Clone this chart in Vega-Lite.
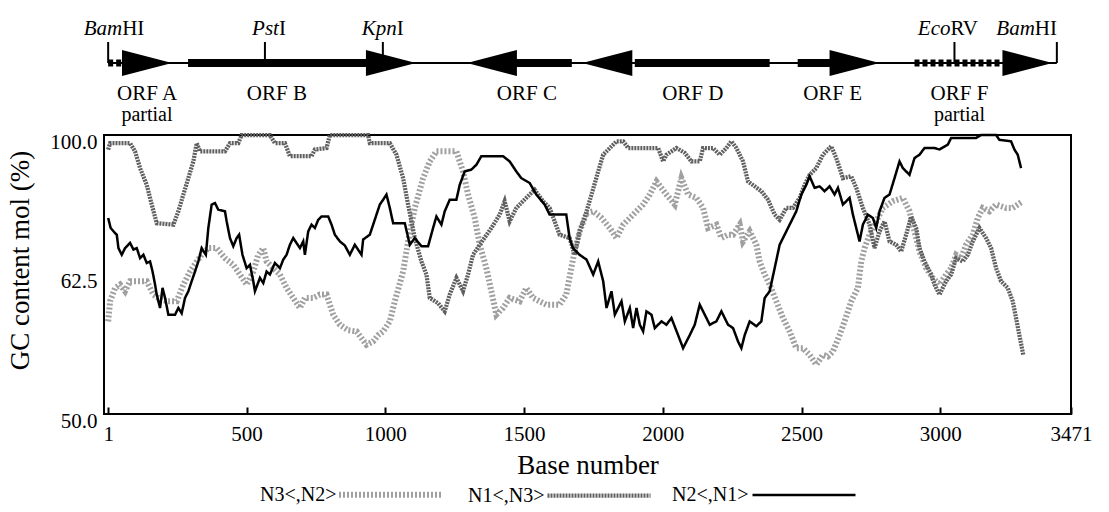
{
  "$schema": "https://vega.github.io/schema/vega-lite/v6.json",
  "width": 967,
  "height": 279,
  "autosize": {"type": "none"},
  "padding": {"left": 104, "top": 135, "right": 38, "bottom": 98},
  "background": "white",
  "config": {
    "font": "Liberation Serif",
    "view": {"stroke": "black", "strokeWidth": 2},
    "axis": {"labelFont": "Liberation Serif", "titleFont": "Liberation Serif", "labelColor": "black", "titleColor": "black", "titleFontWeight": "normal", "grid": false, "domain": false},
    "text": {"font": "Liberation Serif", "color": "black"},
    "legend": {
      "orient": "none", "legendX": 154, "legendY": 305, "direction": "horizontal",
      "labelFont": "Liberation Serif", "labelFontSize": 20, "labelColor": "black", "labelLimit": 300,
      "symbolType": "stroke", "symbolSize": 10609,
      "labelOffset": -185, "symbolOffset": 78, "columnPadding": 13
    }
  },
  "datasets": {
    "gc": [
      {"series":"N2<,N1>","base":1,"gc":77.7},{"series":"N2<,N1>","base":10,"gc":75.0},{"series":"N2<,N1>","base":26,"gc":73.6},{"series":"N2<,N1>","base":32,"gc":73.2},{"series":"N2<,N1>","base":38,"gc":69.6},{"series":"N2<,N1>","base":50,"gc":67.8},{"series":"N2<,N1>","base":62,"gc":69.6},{"series":"N2<,N1>","base":80,"gc":71.0},{"series":"N2<,N1>","base":92,"gc":69.2},{"series":"N2<,N1>","base":104,"gc":69.6},{"series":"N2<,N1>","base":116,"gc":66.9},{"series":"N2<,N1>","base":128,"gc":67.8},{"series":"N2<,N1>","base":140,"gc":65.6},{"series":"N2<,N1>","base":152,"gc":66.0},{"series":"N2<,N1>","base":161,"gc":63.3},{"series":"N2<,N1>","base":170,"gc":59.8},{"series":"N2<,N1>","base":176,"gc":57.1},{"series":"N2<,N1>","base":188,"gc":53.5},{"series":"N2<,N1>","base":197,"gc":58.9},{"series":"N2<,N1>","base":206,"gc":56.2},{"series":"N2<,N1>","base":218,"gc":51.7},{"series":"N2<,N1>","base":242,"gc":51.7},{"series":"N2<,N1>","base":254,"gc":53.5},{"series":"N2<,N1>","base":266,"gc":52.1},{"series":"N2<,N1>","base":278,"gc":56.2},{"series":"N2<,N1>","base":290,"gc":58.0},{"series":"N2<,N1>","base":302,"gc":60.7},{"series":"N2<,N1>","base":314,"gc":63.3},{"series":"N2<,N1>","base":326,"gc":66.0},{"series":"N2<,N1>","base":338,"gc":69.6},{"series":"N2<,N1>","base":353,"gc":67.8},{"series":"N2<,N1>","base":362,"gc":75.0},{"series":"N2<,N1>","base":374,"gc":81.3},{"series":"N2<,N1>","base":386,"gc":81.7},{"series":"N2<,N1>","base":398,"gc":79.9},{"series":"N2<,N1>","base":422,"gc":79.5},{"series":"N2<,N1>","base":428,"gc":76.8},{"series":"N2<,N1>","base":440,"gc":72.3},{"series":"N2<,N1>","base":452,"gc":70.1},{"series":"N2<,N1>","base":464,"gc":72.3},{"series":"N2<,N1>","base":473,"gc":73.2},{"series":"N2<,N1>","base":485,"gc":67.8},{"series":"N2<,N1>","base":500,"gc":64.2},{"series":"N2<,N1>","base":512,"gc":65.1},{"series":"N2<,N1>","base":524,"gc":60.7},{"series":"N2<,N1>","base":530,"gc":58.0},{"series":"N2<,N1>","base":548,"gc":61.6},{"series":"N2<,N1>","base":560,"gc":60.2},{"series":"N2<,N1>","base":572,"gc":63.3},{"series":"N2<,N1>","base":584,"gc":62.5},{"series":"N2<,N1>","base":602,"gc":65.6},{"series":"N2<,N1>","base":620,"gc":64.2},{"series":"N2<,N1>","base":632,"gc":66.5},{"series":"N2<,N1>","base":644,"gc":67.8},{"series":"N2<,N1>","base":656,"gc":70.5},{"series":"N2<,N1>","base":668,"gc":72.3},{"series":"N2<,N1>","base":692,"gc":69.6},{"series":"N2<,N1>","base":704,"gc":71.4},{"series":"N2<,N1>","base":710,"gc":67.8},{"series":"N2<,N1>","base":722,"gc":74.1},{"series":"N2<,N1>","base":734,"gc":75.9},{"series":"N2<,N1>","base":746,"gc":75.0},{"series":"N2<,N1>","base":758,"gc":77.2},{"series":"N2<,N1>","base":770,"gc":78.1},{"series":"N2<,N1>","base":794,"gc":78.1},{"series":"N2<,N1>","base":806,"gc":75.9},{"series":"N2<,N1>","base":818,"gc":73.2},{"series":"N2<,N1>","base":836,"gc":71.4},{"series":"N2<,N1>","base":854,"gc":70.3},{"series":"N2<,N1>","base":872,"gc":67.8},{"series":"N2<,N1>","base":890,"gc":70.5},{"series":"N2<,N1>","base":914,"gc":67.8},{"series":"N2<,N1>","base":920,"gc":71.9},{"series":"N2<,N1>","base":944,"gc":73.2},{"series":"N2<,N1>","base":956,"gc":75.9},{"series":"N2<,N1>","base":968,"gc":78.6},{"series":"N2<,N1>","base":980,"gc":81.3},{"series":"N2<,N1>","base":992,"gc":82.6},{"series":"N2<,N1>","base":1004,"gc":84.0},{"series":"N2<,N1>","base":1016,"gc":80.4},{"series":"N2<,N1>","base":1028,"gc":76.3},{"series":"N2<,N1>","base":1070,"gc":76.3},{"series":"N2<,N1>","base":1088,"gc":70.5},{"series":"N2<,N1>","base":1106,"gc":72.3},{"series":"N2<,N1>","base":1130,"gc":70.1},{"series":"N2<,N1>","base":1154,"gc":70.1},{"series":"N2<,N1>","base":1172,"gc":75.0},{"series":"N2<,N1>","base":1184,"gc":78.1},{"series":"N2<,N1>","base":1202,"gc":75.9},{"series":"N2<,N1>","base":1214,"gc":79.5},{"series":"N2<,N1>","base":1232,"gc":82.6},{"series":"N2<,N1>","base":1256,"gc":82.6},{"series":"N2<,N1>","base":1268,"gc":86.6},{"series":"N2<,N1>","base":1286,"gc":90.2},{"series":"N2<,N1>","base":1310,"gc":90.7},{"series":"N2<,N1>","base":1328,"gc":92.0},{"series":"N2<,N1>","base":1346,"gc":94.3},{"series":"N2<,N1>","base":1424,"gc":94.3},{"series":"N2<,N1>","base":1448,"gc":92.9},{"series":"N2<,N1>","base":1472,"gc":90.2},{"series":"N2<,N1>","base":1490,"gc":88.4},{"series":"N2<,N1>","base":1520,"gc":87.1},{"series":"N2<,N1>","base":1544,"gc":84.0},{"series":"N2<,N1>","base":1574,"gc":81.3},{"series":"N2<,N1>","base":1592,"gc":78.6},{"series":"N2<,N1>","base":1652,"gc":78.6},{"series":"N2<,N1>","base":1664,"gc":72.3},{"series":"N2<,N1>","base":1676,"gc":69.6},{"series":"N2<,N1>","base":1700,"gc":67.8},{"series":"N2<,N1>","base":1725,"gc":66.5},{"series":"N2<,N1>","base":1749,"gc":62.5},{"series":"N2<,N1>","base":1767,"gc":66.0},{"series":"N2<,N1>","base":1785,"gc":60.7},{"series":"N2<,N1>","base":1797,"gc":53.5},{"series":"N2<,N1>","base":1815,"gc":58.0},{"series":"N2<,N1>","base":1827,"gc":51.7},{"series":"N2<,N1>","base":1851,"gc":55.3},{"series":"N2<,N1>","base":1863,"gc":49.9},{"series":"N2<,N1>","base":1881,"gc":53.5},{"series":"N2<,N1>","base":1893,"gc":48.1},{"series":"N2<,N1>","base":1905,"gc":53.5},{"series":"N2<,N1>","base":1917,"gc":49.0},{"series":"N2<,N1>","base":1929,"gc":47.2},{"series":"N2<,N1>","base":1941,"gc":52.6},{"series":"N2<,N1>","base":1959,"gc":51.7},{"series":"N2<,N1>","base":1971,"gc":48.1},{"series":"N2<,N1>","base":1995,"gc":49.9},{"series":"N2<,N1>","base":2013,"gc":49.0},{"series":"N2<,N1>","base":2031,"gc":50.8},{"series":"N2<,N1>","base":2055,"gc":46.2},{"series":"N2<,N1>","base":2073,"gc":42.7},{"series":"N2<,N1>","base":2097,"gc":46.2},{"series":"N2<,N1>","base":2115,"gc":49.0},{"series":"N2<,N1>","base":2133,"gc":54.4},{"series":"N2<,N1>","base":2151,"gc":51.7},{"series":"N2<,N1>","base":2169,"gc":49.0},{"series":"N2<,N1>","base":2193,"gc":49.9},{"series":"N2<,N1>","base":2211,"gc":52.6},{"series":"N2<,N1>","base":2235,"gc":49.0},{"series":"N2<,N1>","base":2253,"gc":48.1},{"series":"N2<,N1>","base":2271,"gc":44.5},{"series":"N2<,N1>","base":2283,"gc":42.7},{"series":"N2<,N1>","base":2295,"gc":46.2},{"series":"N2<,N1>","base":2313,"gc":49.9},{"series":"N2<,N1>","base":2337,"gc":48.6},{"series":"N2<,N1>","base":2355,"gc":49.9},{"series":"N2<,N1>","base":2367,"gc":56.2},{"series":"N2<,N1>","base":2385,"gc":58.0},{"series":"N2<,N1>","base":2403,"gc":64.2},{"series":"N2<,N1>","base":2421,"gc":70.5},{"series":"N2<,N1>","base":2439,"gc":73.2},{"series":"N2<,N1>","base":2457,"gc":75.9},{"series":"N2<,N1>","base":2481,"gc":79.5},{"series":"N2<,N1>","base":2499,"gc":84.0},{"series":"N2<,N1>","base":2517,"gc":86.6},{"series":"N2<,N1>","base":2529,"gc":88.9},{"series":"N2<,N1>","base":2547,"gc":85.8},{"series":"N2<,N1>","base":2565,"gc":86.2},{"series":"N2<,N1>","base":2583,"gc":84.9},{"series":"N2<,N1>","base":2601,"gc":86.2},{"series":"N2<,N1>","base":2619,"gc":84.0},{"series":"N2<,N1>","base":2631,"gc":85.8},{"series":"N2<,N1>","base":2649,"gc":81.3},{"series":"N2<,N1>","base":2673,"gc":83.1},{"series":"N2<,N1>","base":2685,"gc":78.6},{"series":"N2<,N1>","base":2697,"gc":75.0},{"series":"N2<,N1>","base":2709,"gc":71.4},{"series":"N2<,N1>","base":2721,"gc":75.9},{"series":"N2<,N1>","base":2739,"gc":78.6},{"series":"N2<,N1>","base":2757,"gc":77.7},{"series":"N2<,N1>","base":2769,"gc":75.0},{"series":"N2<,N1>","base":2781,"gc":79.5},{"series":"N2<,N1>","base":2799,"gc":83.1},{"series":"N2<,N1>","base":2817,"gc":84.0},{"series":"N2<,N1>","base":2835,"gc":88.4},{"series":"N2<,N1>","base":2853,"gc":92.9},{"series":"N2<,N1>","base":2865,"gc":91.1},{"series":"N2<,N1>","base":2889,"gc":89.3},{"series":"N2<,N1>","base":2907,"gc":93.8},{"series":"N2<,N1>","base":2925,"gc":94.7},{"series":"N2<,N1>","base":2943,"gc":96.5},{"series":"N2<,N1>","base":2979,"gc":96.5},{"series":"N2<,N1>","base":2997,"gc":96.1},{"series":"N2<,N1>","base":3027,"gc":97.4},{"series":"N2<,N1>","base":3039,"gc":99.2},{"series":"N2<,N1>","base":3129,"gc":99.2},{"series":"N2<,N1>","base":3147,"gc":100},{"series":"N2<,N1>","base":3201,"gc":100},{"series":"N2<,N1>","base":3213,"gc":98.7},{"series":"N2<,N1>","base":3255,"gc":98.3},{"series":"N2<,N1>","base":3267,"gc":96.1},{"series":"N2<,N1>","base":3279,"gc":94.7},{"series":"N2<,N1>","base":3291,"gc":91.1},

      {"series":"N1<,N3>","base":1,"gc":96.1},{"series":"N1<,N3>","base":8,"gc":97.8},{"series":"N1<,N3>","base":80,"gc":97.8},{"series":"N1<,N3>","base":98,"gc":95.6},{"series":"N1<,N3>","base":116,"gc":91.1},{"series":"N1<,N3>","base":140,"gc":86.6},{"series":"N1<,N3>","base":158,"gc":81.3},{"series":"N1<,N3>","base":176,"gc":76.3},{"series":"N1<,N3>","base":236,"gc":75.9},{"series":"N1<,N3>","base":254,"gc":79.5},{"series":"N1<,N3>","base":272,"gc":84.0},{"series":"N1<,N3>","base":290,"gc":88.4},{"series":"N1<,N3>","base":308,"gc":92.9},{"series":"N1<,N3>","base":320,"gc":97.8},{"series":"N1<,N3>","base":332,"gc":95.6},{"series":"N1<,N3>","base":422,"gc":95.6},{"series":"N1<,N3>","base":440,"gc":97.8},{"series":"N1<,N3>","base":470,"gc":97.8},{"series":"N1<,N3>","base":482,"gc":100},{"series":"N1<,N3>","base":584,"gc":100},{"series":"N1<,N3>","base":602,"gc":97.8},{"series":"N1<,N3>","base":638,"gc":97.8},{"series":"N1<,N3>","base":656,"gc":94.3},{"series":"N1<,N3>","base":734,"gc":94.3},{"series":"N1<,N3>","base":746,"gc":96.1},{"series":"N1<,N3>","base":788,"gc":96.5},{"series":"N1<,N3>","base":800,"gc":100},{"series":"N1<,N3>","base":938,"gc":100},{"series":"N1<,N3>","base":944,"gc":97.8},{"series":"N1<,N3>","base":1016,"gc":97.8},{"series":"N1<,N3>","base":1040,"gc":94.7},{"series":"N1<,N3>","base":1064,"gc":88.4},{"series":"N1<,N3>","base":1082,"gc":81.3},{"series":"N1<,N3>","base":1106,"gc":72.3},{"series":"N1<,N3>","base":1130,"gc":66.0},{"series":"N1<,N3>","base":1148,"gc":62.5},{"series":"N1<,N3>","base":1160,"gc":56.2},{"series":"N1<,N3>","base":1190,"gc":54.8},{"series":"N1<,N3>","base":1214,"gc":52.6},{"series":"N1<,N3>","base":1232,"gc":57.1},{"series":"N1<,N3>","base":1256,"gc":61.6},{"series":"N1<,N3>","base":1280,"gc":58.0},{"series":"N1<,N3>","base":1298,"gc":62.5},{"series":"N1<,N3>","base":1316,"gc":67.8},{"series":"N1<,N3>","base":1340,"gc":70.5},{"series":"N1<,N3>","base":1382,"gc":75.0},{"series":"N1<,N3>","base":1412,"gc":78.6},{"series":"N1<,N3>","base":1430,"gc":82.2},{"series":"N1<,N3>","base":1448,"gc":76.8},{"series":"N1<,N3>","base":1472,"gc":80.4},{"series":"N1<,N3>","base":1508,"gc":83.1},{"series":"N1<,N3>","base":1538,"gc":85.3},{"series":"N1<,N3>","base":1568,"gc":82.2},{"series":"N1<,N3>","base":1592,"gc":80.4},{"series":"N1<,N3>","base":1628,"gc":73.2},{"series":"N1<,N3>","base":1664,"gc":72.3},{"series":"N1<,N3>","base":1682,"gc":67.8},{"series":"N1<,N3>","base":1700,"gc":74.1},{"series":"N1<,N3>","base":1718,"gc":77.7},{"series":"N1<,N3>","base":1743,"gc":84.0},{"series":"N1<,N3>","base":1767,"gc":90.2},{"series":"N1<,N3>","base":1785,"gc":94.7},{"series":"N1<,N3>","base":1809,"gc":96.5},{"series":"N1<,N3>","base":1833,"gc":98.3},{"series":"N1<,N3>","base":1857,"gc":98.3},{"series":"N1<,N3>","base":1875,"gc":96.5},{"series":"N1<,N3>","base":1983,"gc":96.5},{"series":"N1<,N3>","base":2001,"gc":92.9},{"series":"N1<,N3>","base":2013,"gc":94.7},{"series":"N1<,N3>","base":2049,"gc":96.5},{"series":"N1<,N3>","base":2079,"gc":95.2},{"series":"N1<,N3>","base":2103,"gc":92.9},{"series":"N1<,N3>","base":2133,"gc":92.9},{"series":"N1<,N3>","base":2145,"gc":96.5},{"series":"N1<,N3>","base":2181,"gc":96.5},{"series":"N1<,N3>","base":2205,"gc":94.7},{"series":"N1<,N3>","base":2229,"gc":96.5},{"series":"N1<,N3>","base":2247,"gc":98.3},{"series":"N1<,N3>","base":2265,"gc":96.5},{"series":"N1<,N3>","base":2289,"gc":92.9},{"series":"N1<,N3>","base":2307,"gc":87.5},{"series":"N1<,N3>","base":2331,"gc":86.2},{"series":"N1<,N3>","base":2355,"gc":84.9},{"series":"N1<,N3>","base":2379,"gc":82.6},{"series":"N1<,N3>","base":2403,"gc":78.6},{"series":"N1<,N3>","base":2421,"gc":77.2},{"series":"N1<,N3>","base":2445,"gc":80.4},{"series":"N1<,N3>","base":2469,"gc":80.4},{"series":"N1<,N3>","base":2493,"gc":83.1},{"series":"N1<,N3>","base":2511,"gc":86.6},{"series":"N1<,N3>","base":2529,"gc":89.3},{"series":"N1<,N3>","base":2553,"gc":91.1},{"series":"N1<,N3>","base":2577,"gc":94.7},{"series":"N1<,N3>","base":2607,"gc":97.0},{"series":"N1<,N3>","base":2625,"gc":93.8},{"series":"N1<,N3>","base":2649,"gc":88.4},{"series":"N1<,N3>","base":2679,"gc":88.9},{"series":"N1<,N3>","base":2697,"gc":85.8},{"series":"N1<,N3>","base":2721,"gc":80.4},{"series":"N1<,N3>","base":2745,"gc":75.9},{"series":"N1<,N3>","base":2763,"gc":69.6},{"series":"N1<,N3>","base":2781,"gc":74.1},{"series":"N1<,N3>","base":2799,"gc":76.8},{"series":"N1<,N3>","base":2817,"gc":71.4},{"series":"N1<,N3>","base":2841,"gc":70.5},{"series":"N1<,N3>","base":2859,"gc":68.7},{"series":"N1<,N3>","base":2877,"gc":73.2},{"series":"N1<,N3>","base":2895,"gc":78.1},{"series":"N1<,N3>","base":2913,"gc":75.0},{"series":"N1<,N3>","base":2925,"gc":69.6},{"series":"N1<,N3>","base":2943,"gc":66.0},{"series":"N1<,N3>","base":2967,"gc":62.5},{"series":"N1<,N3>","base":2979,"gc":59.8},{"series":"N1<,N3>","base":2997,"gc":57.1},{"series":"N1<,N3>","base":3021,"gc":60.7},{"series":"N1<,N3>","base":3039,"gc":62.5},{"series":"N1<,N3>","base":3057,"gc":66.9},{"series":"N1<,N3>","base":3081,"gc":66.0},{"series":"N1<,N3>","base":3099,"gc":67.8},{"series":"N1<,N3>","base":3117,"gc":71.4},{"series":"N1<,N3>","base":3141,"gc":75.0},{"series":"N1<,N3>","base":3165,"gc":72.3},{"series":"N1<,N3>","base":3183,"gc":69.6},{"series":"N1<,N3>","base":3201,"gc":64.2},{"series":"N1<,N3>","base":3219,"gc":60.7},{"series":"N1<,N3>","base":3243,"gc":58.9},{"series":"N1<,N3>","base":3261,"gc":55.3},{"series":"N1<,N3>","base":3273,"gc":50.8},{"series":"N1<,N3>","base":3285,"gc":46.2},{"series":"N1<,N3>","base":3299,"gc":40.9},

      {"series":"N3<,N2>","base":1,"gc":49.9},{"series":"N3<,N2>","base":8,"gc":55.3},{"series":"N3<,N2>","base":26,"gc":58.9},{"series":"N3<,N2>","base":44,"gc":59.8},{"series":"N3<,N2>","base":62,"gc":58.0},{"series":"N3<,N2>","base":80,"gc":60.7},{"series":"N3<,N2>","base":140,"gc":60.7},{"series":"N3<,N2>","base":164,"gc":57.1},{"series":"N3<,N2>","base":182,"gc":56.2},{"series":"N3<,N2>","base":212,"gc":55.3},{"series":"N3<,N2>","base":248,"gc":55.3},{"series":"N3<,N2>","base":272,"gc":59.8},{"series":"N3<,N2>","base":296,"gc":63.3},{"series":"N3<,N2>","base":320,"gc":66.0},{"series":"N3<,N2>","base":338,"gc":67.8},{"series":"N3<,N2>","base":362,"gc":69.6},{"series":"N3<,N2>","base":392,"gc":69.6},{"series":"N3<,N2>","base":422,"gc":66.9},{"series":"N3<,N2>","base":452,"gc":65.1},{"series":"N3<,N2>","base":476,"gc":62.5},{"series":"N3<,N2>","base":500,"gc":59.8},{"series":"N3<,N2>","base":524,"gc":63.3},{"series":"N3<,N2>","base":542,"gc":67.8},{"series":"N3<,N2>","base":560,"gc":69.6},{"series":"N3<,N2>","base":572,"gc":66.0},{"series":"N3<,N2>","base":596,"gc":64.2},{"series":"N3<,N2>","base":620,"gc":62.5},{"series":"N3<,N2>","base":644,"gc":58.9},{"series":"N3<,N2>","base":668,"gc":56.2},{"series":"N3<,N2>","base":692,"gc":53.5},{"series":"N3<,N2>","base":710,"gc":56.2},{"series":"N3<,N2>","base":740,"gc":56.2},{"series":"N3<,N2>","base":764,"gc":57.1},{"series":"N3<,N2>","base":788,"gc":57.1},{"series":"N3<,N2>","base":812,"gc":51.7},{"series":"N3<,N2>","base":836,"gc":49.0},{"series":"N3<,N2>","base":866,"gc":47.5},{"series":"N3<,N2>","base":896,"gc":47.2},{"series":"N3<,N2>","base":932,"gc":43.6},{"series":"N3<,N2>","base":956,"gc":44.5},{"series":"N3<,N2>","base":974,"gc":46.2},{"series":"N3<,N2>","base":992,"gc":47.2},{"series":"N3<,N2>","base":1016,"gc":49.9},{"series":"N3<,N2>","base":1034,"gc":55.3},{"series":"N3<,N2>","base":1064,"gc":63.3},{"series":"N3<,N2>","base":1082,"gc":71.4},{"series":"N3<,N2>","base":1106,"gc":80.4},{"series":"N3<,N2>","base":1136,"gc":88.4},{"series":"N3<,N2>","base":1160,"gc":92.9},{"series":"N3<,N2>","base":1184,"gc":95.6},{"series":"N3<,N2>","base":1256,"gc":95.6},{"series":"N3<,N2>","base":1280,"gc":90.2},{"series":"N3<,N2>","base":1298,"gc":84.0},{"series":"N3<,N2>","base":1322,"gc":77.7},{"series":"N3<,N2>","base":1340,"gc":70.5},{"series":"N3<,N2>","base":1364,"gc":64.2},{"series":"N3<,N2>","base":1382,"gc":58.0},{"series":"N3<,N2>","base":1400,"gc":51.7},{"series":"N3<,N2>","base":1424,"gc":53.5},{"series":"N3<,N2>","base":1448,"gc":56.2},{"series":"N3<,N2>","base":1484,"gc":55.3},{"series":"N3<,N2>","base":1508,"gc":58.9},{"series":"N3<,N2>","base":1532,"gc":56.2},{"series":"N3<,N2>","base":1580,"gc":54.4},{"series":"N3<,N2>","base":1628,"gc":54.4},{"series":"N3<,N2>","base":1652,"gc":57.1},{"series":"N3<,N2>","base":1670,"gc":64.2},{"series":"N3<,N2>","base":1682,"gc":68.7},{"series":"N3<,N2>","base":1700,"gc":74.0},{"series":"N3<,N2>","base":1725,"gc":79.0},{"series":"N3<,N2>","base":1749,"gc":79.5},{"series":"N3<,N2>","base":1779,"gc":77.7},{"series":"N3<,N2>","base":1809,"gc":75.0},{"series":"N3<,N2>","base":1833,"gc":72.3},{"series":"N3<,N2>","base":1857,"gc":75.9},{"series":"N3<,N2>","base":1893,"gc":78.6},{"series":"N3<,N2>","base":1929,"gc":81.3},{"series":"N3<,N2>","base":1953,"gc":84.0},{"series":"N3<,N2>","base":1977,"gc":87.5},{"series":"N3<,N2>","base":2013,"gc":84.0},{"series":"N3<,N2>","base":2043,"gc":81.3},{"series":"N3<,N2>","base":2067,"gc":88.4},{"series":"N3<,N2>","base":2091,"gc":84.0},{"series":"N3<,N2>","base":2121,"gc":83.1},{"series":"N3<,N2>","base":2145,"gc":80.4},{"series":"N3<,N2>","base":2163,"gc":75.0},{"series":"N3<,N2>","base":2193,"gc":75.9},{"series":"N3<,N2>","base":2211,"gc":72.3},{"series":"N3<,N2>","base":2235,"gc":73.2},{"series":"N3<,N2>","base":2253,"gc":73.2},{"series":"N3<,N2>","base":2277,"gc":75.9},{"series":"N3<,N2>","base":2289,"gc":71.4},{"series":"N3<,N2>","base":2313,"gc":74.1},{"series":"N3<,N2>","base":2337,"gc":70.5},{"series":"N3<,N2>","base":2349,"gc":66.0},{"series":"N3<,N2>","base":2367,"gc":62.5},{"series":"N3<,N2>","base":2385,"gc":59.8},{"series":"N3<,N2>","base":2409,"gc":55.3},{"series":"N3<,N2>","base":2433,"gc":50.8},{"series":"N3<,N2>","base":2457,"gc":47.2},{"series":"N3<,N2>","base":2481,"gc":42.7},{"series":"N3<,N2>","base":2505,"gc":42.7},{"series":"N3<,N2>","base":2529,"gc":40.9},{"series":"N3<,N2>","base":2553,"gc":38.3},{"series":"N3<,N2>","base":2577,"gc":40.9},{"series":"N3<,N2>","base":2595,"gc":40.5},{"series":"N3<,N2>","base":2613,"gc":41.8},{"series":"N3<,N2>","base":2637,"gc":46.2},{"series":"N3<,N2>","base":2655,"gc":49.9},{"series":"N3<,N2>","base":2679,"gc":55.3},{"series":"N3<,N2>","base":2703,"gc":58.9},{"series":"N3<,N2>","base":2715,"gc":66.0},{"series":"N3<,N2>","base":2727,"gc":69.6},{"series":"N3<,N2>","base":2745,"gc":73.2},{"series":"N3<,N2>","base":2769,"gc":76.8},{"series":"N3<,N2>","base":2793,"gc":80.4},{"series":"N3<,N2>","base":2829,"gc":82.2},{"series":"N3<,N2>","base":2865,"gc":83.1},{"series":"N3<,N2>","base":2889,"gc":79.5},{"series":"N3<,N2>","base":2907,"gc":74.1},{"series":"N3<,N2>","base":2925,"gc":68.7},{"series":"N3<,N2>","base":2949,"gc":64.2},{"series":"N3<,N2>","base":2973,"gc":61.6},{"series":"N3<,N2>","base":2997,"gc":59.8},{"series":"N3<,N2>","base":3021,"gc":62.5},{"series":"N3<,N2>","base":3039,"gc":64.2},{"series":"N3<,N2>","base":3057,"gc":67.8},{"series":"N3<,N2>","base":3075,"gc":66.9},{"series":"N3<,N2>","base":3093,"gc":70.5},{"series":"N3<,N2>","base":3117,"gc":73.2},{"series":"N3<,N2>","base":3135,"gc":77.7},{"series":"N3<,N2>","base":3153,"gc":80.4},{"series":"N3<,N2>","base":3177,"gc":79.5},{"series":"N3<,N2>","base":3201,"gc":81.3},{"series":"N3<,N2>","base":3237,"gc":80.4},{"series":"N3<,N2>","base":3261,"gc":80.4},{"series":"N3<,N2>","base":3297,"gc":82.2}
    ],
    "map": [
      {"part":"line","base":1,"end":3420,"lane":"map"},
      {"part":"body","orf":"ORF A","base":1,"end":51,"lane":"map","partial":true},
      {"part":"body","orf":"ORF B","base":289,"end":944,"lane":"map","partial":false},
      {"part":"body","orf":"ORF C","base":1466,"end":1672,"lane":"map","partial":false},
      {"part":"body","orf":"ORF D","base":1899,"end":2385,"lane":"map","partial":false},
      {"part":"body","orf":"ORF E","base":2486,"end":2612,"lane":"map","partial":false},
      {"part":"body","orf":"ORF F","base":2907,"end":3221,"lane":"map","partial":true},
      {"part":"head","orf":"ORF A","base":141,"dir":"right","lane":"map"},
      {"part":"head","orf":"ORF B","base":1020,"dir":"right","lane":"map"},
      {"part":"head","orf":"ORF C","base":1384,"dir":"left","lane":"map"},
      {"part":"head","orf":"ORF D","base":1800,"dir":"left","lane":"map"},
      {"part":"head","orf":"ORF E","base":2691,"dir":"right","lane":"map"},
      {"part":"head","orf":"ORF F","base":3314,"dir":"right","lane":"map"},
      {"part":"label","text":"ORF A","base":141,"lane":"orf"},
      {"part":"label","text":"ORF B","base":609,"lane":"orf"},
      {"part":"label","text":"ORF C","base":1510,"lane":"orf"},
      {"part":"label","text":"ORF D","base":2108,"lane":"orf"},
      {"part":"label","text":"ORF E","base":2612,"lane":"orf"},
      {"part":"label","text":"ORF F","base":3069,"lane":"orf"},
      {"part":"label","text":"partial","base":141,"lane":"note"},
      {"part":"label","text":"partial","base":3069,"lane":"note"},
      {"part":"site","name":"BamHI","italic":"Bam","roman":"HI","base":1,"lane":"site"},
      {"part":"site","name":"PstI","italic":"Pst","roman":"I","base":566,"lane":"site"},
      {"part":"site","name":"KpnI","italic":"Kpn","roman":"I","base":991,"lane":"site"},
      {"part":"site","name":"EcoRV","italic":"Eco","roman":"RV","base":3051,"lane":"site"},
      {"part":"site","name":"BamHI","italic":"Bam","roman":"HI","base":3420,"lane":"site"}
    ]
  },
  "layer": [
    {
      "data": {"name": "gc"},
      "encoding": {
        "x": {"field": "base", "type": "quantitative", "title": "Base number",
          "scale": {"domain": [-14, 3471], "nice": false, "zero": false},
          "axis": {"values": [1, 500, 1000, 1500, 2000, 2500, 3000, 3471], "format": "d",
            "tickSize": -7, "tickWidth": 2, "tickColor": "black", "labelPadding": 16,
            "labelFontSize": 21, "labelFlush": false, "labelOverlap": false, "labelBaseline": "top",
            "titleFontSize": 27, "titlePadding": 8}},
        "y": {"field": "gc", "type": "quantitative", "title": "GC content mol (%)",
          "scale": {"domain": [25, 100], "nice": false, "zero": false},
          "axis": {"values": [25, 62.5, 100], "labelExpr": "datum.value === 25 ? '50.0' : format(datum.value, '.1f')",
            "ticks": false, "labelPadding": 7, "labelFontSize": 21, "labelOffset": 7, "labelBaseline": "middle",
            "labelFlush": false, "labelOverlap": false, "titleFontSize": 27, "titleX": -70, "titleY": 125,
            "titleBaseline": "bottom"}}
      },
      "layer": [
        {
          "data": {"values": [{"gc": 62.5}]},
          "mark": {"type": "rule", "color": "black", "strokeWidth": 1.6},
          "encoding": {"x": {"datum": -14}, "x2": {"datum": 3471}}
        },
        {
          "transform": [{"filter": "datum.series === 'N3<,N2>'"}],
          "mark": {"type": "line", "strokeCap": "butt"},
          "encoding": {
            "color": {"field": "series", "type": "ordinal", "title": null, "scale": {"domain": ["N3<,N2>", "N1<,N3>", "N2<,N1>"], "range": ["#a0a0a0", "#606060", "#000000"]}},
            "strokeDash": {"field": "series", "type": "ordinal", "title": null, "scale": {"domain": ["N3<,N2>", "N1<,N3>", "N2<,N1>"], "range": [[2, 2], [2, 1], [1, 0]]}},
            "strokeWidth": {"field": "series", "type": "ordinal", "title": null, "scale": {"domain": ["N3<,N2>", "N1<,N3>", "N2<,N1>"], "range": [6, 2.5, 2.5]}}
          }
        },
        {
          "transform": [{"filter": "datum.series === 'N1<,N3>'"}],
          "mark": {"type": "line", "strokeCap": "butt"},
          "encoding": {
            "color": {"field": "series", "type": "ordinal", "title": null, "scale": {"domain": ["N3<,N2>", "N1<,N3>", "N2<,N1>"], "range": ["#a0a0a0", "#606060", "#000000"]}},
            "strokeDash": {"field": "series", "type": "ordinal", "title": null, "scale": {"domain": ["N3<,N2>", "N1<,N3>", "N2<,N1>"], "range": [[2, 2], [2, 1], [1, 0]]}},
            "strokeWidth": {"field": "series", "type": "ordinal", "title": null, "scale": {"domain": ["N3<,N2>", "N1<,N3>", "N2<,N1>"], "range": [6, 2.5, 2.5]}}
          }
        },
        {
          "transform": [{"filter": "datum.series === 'N2<,N1>'"}],
          "mark": {"type": "line", "strokeCap": "butt"},
          "encoding": {
            "color": {"field": "series", "type": "ordinal", "title": null, "scale": {"domain": ["N3<,N2>", "N1<,N3>", "N2<,N1>"], "range": ["#a0a0a0", "#606060", "#000000"]}},
            "strokeDash": {"field": "series", "type": "ordinal", "title": null, "scale": {"domain": ["N3<,N2>", "N1<,N3>", "N2<,N1>"], "range": [[2, 2], [2, 1], [1, 0]]}},
            "strokeWidth": {"field": "series", "type": "ordinal", "title": null, "scale": {"domain": ["N3<,N2>", "N1<,N3>", "N2<,N1>"], "range": [6, 2.5, 2.5]}}
          }
        }
      ]
    },
    {
      "data": {"name": "map"},
      "encoding": {
        "x": {"field": "base", "type": "quantitative", "title": "Base number", "scale": {"domain": [-14, 3471], "nice": false, "zero": false}},
        "y": {"field": "lane", "type": "ordinal", "axis": null,
          "scale": {"type": "point", "domain": ["site", "map", "orf", "note"], "range": [-93, -30], "padding": 0}}
      },
      "layer": [
        {
          "transform": [{"filter": "datum.part === 'line'"}],
          "mark": {"type": "rule", "color": "black", "strokeWidth": 2},
          "encoding": {"x2": {"field": "end"}}
        },
        {
          "transform": [{"filter": "datum.part === 'body' && !datum.partial"}],
          "mark": {"type": "rule", "color": "black", "strokeWidth": 8, "strokeCap": "butt"},
          "encoding": {"x2": {"field": "end"}}
        },
        {
          "transform": [{"filter": "datum.part === 'body' && datum.partial"}],
          "mark": {"type": "rule", "color": "black", "strokeWidth": 7, "strokeCap": "butt", "strokeDash": [5, 3]},
          "encoding": {"x2": {"field": "end"}}
        },
        {
          "transform": [{"filter": "datum.part === 'head'"}],
          "mark": {"type": "point", "filled": true, "color": "black", "opacity": 1, "size": 2500, "strokeWidth": 0},
          "encoding": {"shape": {"field": "dir", "type": "nominal", "legend": null,
            "scale": {"domain": ["right", "left"], "range": ["M-1,-0.52L1,0L-1,0.52Z", "M1,-0.52L-1,0L1,0.52Z"]}}}
        },
        {
          "transform": [{"filter": "datum.part === 'site'"}],
          "mark": {"type": "rule", "color": "black", "strokeWidth": 2},
          "encoding": {"y2": {"datum": "map"}}
        },
        {
          "transform": [{"filter": "datum.part === 'label' && datum.lane === 'orf'"}],
          "mark": {"type": "text", "fontSize": 21, "baseline": "top", "align": "center", "dy": -1},
          "encoding": {"text": {"field": "text"}}
        },
        {
          "transform": [{"filter": "datum.part === 'label' && datum.lane === 'note'"}],
          "mark": {"type": "text", "fontSize": 20, "baseline": "top", "align": "center"},
          "encoding": {"text": {"field": "text"}}
        },
        {
          "transform": [{"filter": "datum.part === 'site' && datum.base < 1500"}],
          "mark": {"type": "text", "fontSize": 21, "fontStyle": "italic", "align": "right", "baseline": "alphabetic", "dx": 14, "dy": -7},
          "encoding": {"text": {"field": "italic"}}
        },
        {
          "transform": [{"filter": "datum.part === 'site' && datum.base < 1500"}],
          "mark": {"type": "text", "fontSize": 21, "align": "left", "baseline": "alphabetic", "dx": 14, "dy": -7},
          "encoding": {"text": {"field": "roman"}}
        },
        {
          "transform": [{"filter": "datum.part === 'site' && datum.name === 'EcoRV'"}],
          "mark": {"type": "text", "fontSize": 21, "fontStyle": "italic", "align": "right", "baseline": "alphabetic", "dx": -4, "dy": -7},
          "encoding": {"text": {"field": "italic"}}
        },
        {
          "transform": [{"filter": "datum.part === 'site' && datum.name === 'EcoRV'"}],
          "mark": {"type": "text", "fontSize": 21, "align": "left", "baseline": "alphabetic", "dx": -4, "dy": -7},
          "encoding": {"text": {"field": "roman"}}
        },
        {
          "transform": [{"filter": "datum.part === 'site' && datum.base > 3300"}],
          "mark": {"type": "text", "fontSize": 21, "fontStyle": "italic", "align": "right", "baseline": "alphabetic", "dx": -22, "dy": -7},
          "encoding": {"text": {"field": "italic"}}
        },
        {
          "transform": [{"filter": "datum.part === 'site' && datum.base > 3300"}],
          "mark": {"type": "text", "fontSize": 21, "align": "left", "baseline": "alphabetic", "dx": -22, "dy": -7},
          "encoding": {"text": {"field": "roman"}}
        }
      ]
    }
  ],
  "resolve": {"scale": {"y": "independent"}}
}
